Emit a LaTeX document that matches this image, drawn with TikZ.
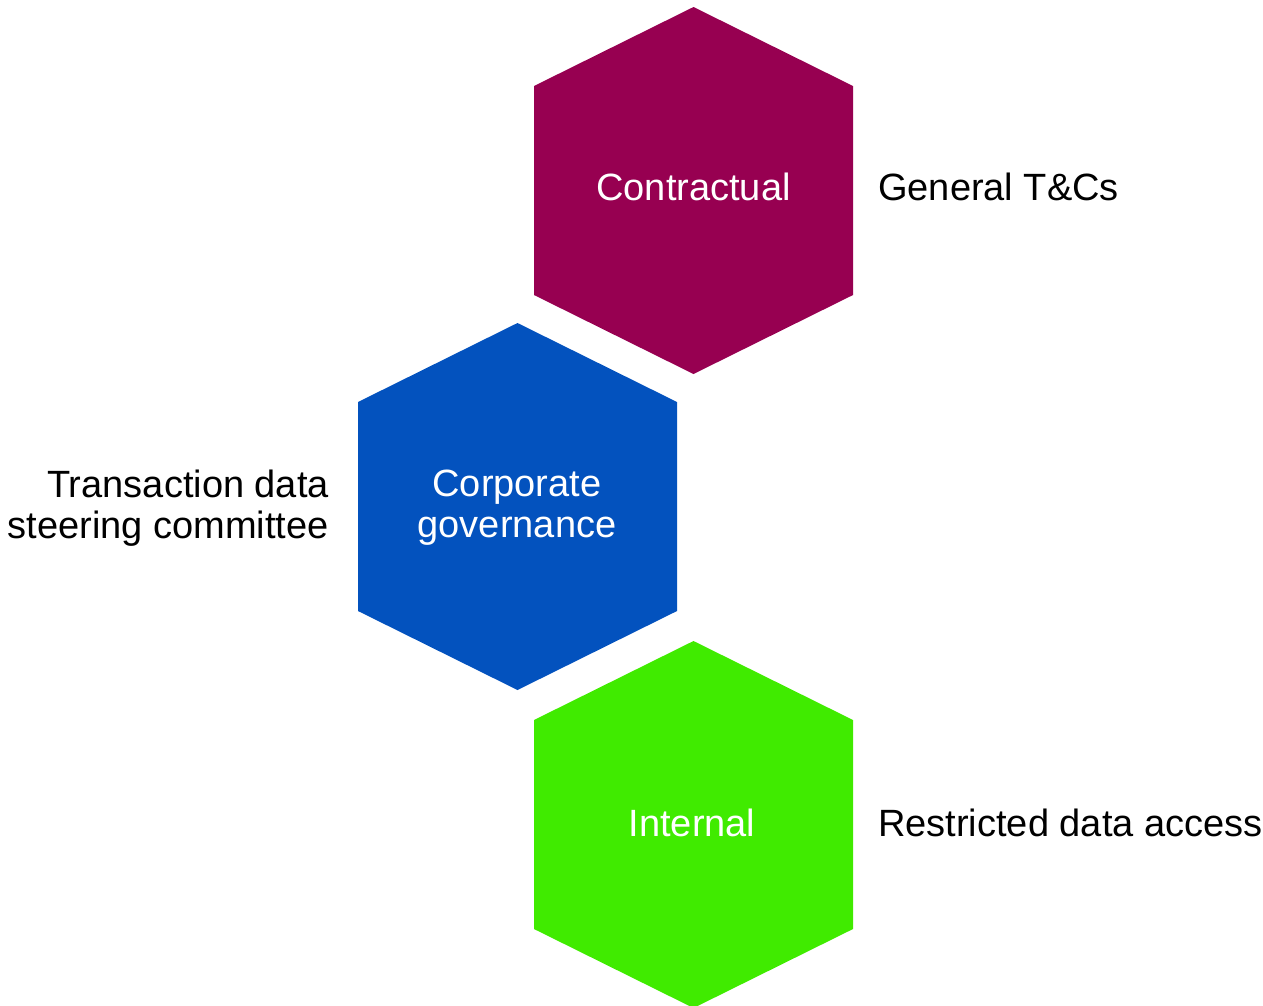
\documentclass[tikz,border=0pt]{standalone}
\usepackage{fontspec}
\setmainfont{Liberation Sans}
\definecolor{hexpurple}{RGB}{151,0,81}
\definecolor{hexblue}{RGB}{3,82,190}
\definecolor{hexgreen}{RGB}{64,235,0}

\begin{document}
\begin{tikzpicture}[x=1pt, y=-1pt]
\tikzstyle{hextext}=[white, inner sep=0pt, align=center, font=\fontsize{38}{41}\selectfont]
\tikzstyle{side}=[black, inner sep=0pt, font=\fontsize{38}{41}\selectfont]

\useasboundingbox (0,0) rectangle (1263,1005);

% Hexagons
\foreach \x/\y/\col in {693.5/190.5/hexpurple, 517.5/506.5/hexblue, 693.5/824.5/hexgreen}
\fill[\col] (\x,\y) ++(0,-183.5) -- ++(159.5,79) -- ++(0,209) -- ++(-159.5,79) -- ++(-159.5,-79) -- ++(0,-209) -- cycle;

% Hexagon text
\node at (693.5, 187) [hextext] (contract) {Contractual};
\node at (517, 508) [hextext] (corporate) {Corporate\\governance};
\node at (692, 823) [hextext] (internal) {Internal};

% Side labels
\node at (878, 187) [side, anchor=west] (terms) {General T\&Cs};
\node at (329, 508) [side, anchor=east, align=right] (committee) {Transaction data\\steering committee};
\node at (878, 823) [side, anchor=west] (access) {Restricted data access};
\end{tikzpicture}
\end{document}
